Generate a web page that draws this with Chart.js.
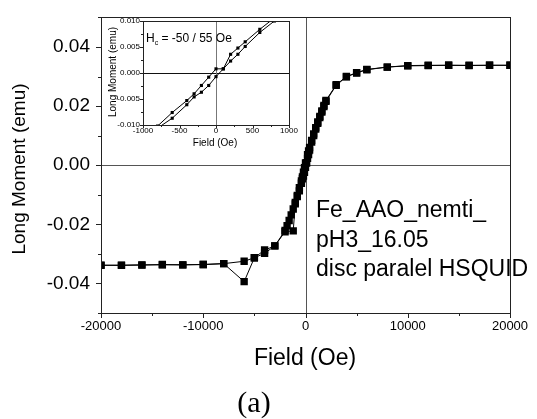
<!DOCTYPE html>
<html>
<head>
<meta charset="utf-8">
<script src="https://cdn.jsdelivr.net/npm/chart.js@4/dist/chart.umd.min.js"></script>
<style>
  html, body { margin: 0; padding: 0; background: #fff; }
  #wrap { position: relative; width: 537px; height: 419px; }
  #main { position: absolute; left: 0; top: 0; }
  #inset { position: absolute; left: 104px; top: 12px; }
</style>
</head>
<body>
<div id="wrap">
  <canvas id="main" width="537" height="419"></canvas>
  <canvas id="inset" width="196" height="140"></canvas>
</div>
<script>
// M(H) loop, field swept down from +20 kOe then back up
const fieldDown = [20000, 18000, 16000, 14000, 12000, 10000, 8000, 6000, 5000, 4000, 3000,
  2000, 1800, 1600, 1400, 1200, 1000, 800, 600, 400, 300, 200, 100, 0,
  -100, -200, -300, -400, -600, -800, -1000, -1200, -1400, -1600, -1800, -2000,
  -3000, -4000, -5000, -6000, -8000, -10000, -12000, -14000, -16000, -18000, -20000]
const momentDown = [0.0338, 0.0338, 0.0338, 0.0338, 0.0338, 0.0337, 0.0332, 0.0324, 0.0313, 0.0300, 0.0272,
  0.0219, 0.0202, 0.0184, 0.0165, 0.0146, 0.0127, 0.0106, 0.0084, 0.0060, 0.0048, 0.0036, 0.0008, 0.0008,
  -0.0008, -0.0024, -0.0040, -0.0053, -0.0076, -0.0102, -0.0126, -0.0148, -0.0168, -0.0187, -0.0205, -0.0221,
  -0.0273, -0.0287, -0.0313, -0.0325, -0.0333, -0.0336, -0.0337, -0.0336, -0.0338, -0.0339, -0.0338]

const fieldUp = [-20000, -18000, -16000, -14000, -12000, -10000, -8000, -6000, -5000, -4000, -3000, -2000,
  -1200, -1000, -800, -600, -400, -300, -200, -100, 0,
  100, 200, 300, 400, 600, 800, 1000, 1200, 1400, 1600, 1800, 2000,
  3000, 4000, 5000, 6000, 8000, 10000, 12000, 14000, 16000, 18000, 20000]
const momentUp = [-0.0339, -0.0338, -0.0337, -0.0337, -0.0337, -0.0336, -0.0333, -0.0394, -0.0313, -0.0298, -0.0273, -0.0225,
  -0.0222, -0.0131, -0.0106, -0.0087, -0.0061, -0.0046, -0.0037, -0.0024, -0.0007,
  0.0008, 0.0023, 0.0036, 0.0051, 0.0078, 0.0100, 0.0122, 0.0142, 0.0161, 0.0180, 0.0198, 0.0216,
  0.0270, 0.0299, 0.0312, 0.0323, 0.0332, 0.0336, 0.0337, 0.0338, 0.0337, 0.0338, 0.0338]

const xTicks = [-20000, -10000, 0, 10000, 20000]
const yTicks = [-0.04, -0.02, 0, 0.02, 0.04]
const xTicksInset = [-1000, -500, 0, 500, 1000]
const yTicksInset = [-0.010, -0.005, 0, 0.005, 0.010]

const sampleLines = ['Fe_AAO_nemti_', 'pH3_16.05', 'disc paralel HSQUID']

const SANS = '"Liberation Sans", Arial, sans-serif'

const toPoints = (xs, ys) => xs.map((x, i) => ({ x, y: ys[i] }))

function loopDatasets (radius) {
  return [toPoints(fieldDown, momentDown), toPoints(fieldUp, momentUp)].map(data => ({
    data,
    showLine: true,
    borderColor: '#000',
    borderWidth: 1,
    pointStyle: 'rect',
    pointRadius: radius,
    pointBackgroundColor: '#000',
    pointBorderWidth: 0,
    pointHoverRadius: radius,
    clip: 0
  }))
}

// zero lines, frame and in/out tick marks
const frame = {
  id: 'frame',
  beforeDatasetsDraw (chart, args, opts) {
    const { ctx, chartArea: a, scales: { x, y } } = chart
    ctx.save()
    ctx.lineWidth = 1
    const x0 = Math.round(x.getPixelForValue(0)) + 0.5
    const y0 = Math.round(y.getPixelForValue(0)) + 0.5
    ctx.strokeStyle = opts.zeroY
    ctx.beginPath(); ctx.moveTo(a.left, y0); ctx.lineTo(a.right, y0); ctx.stroke()
    ctx.strokeStyle = opts.zeroX
    ctx.beginPath(); ctx.moveTo(x0, a.top); ctx.lineTo(x0, a.bottom); ctx.stroke()
    ctx.restore()
  },
  afterDatasetsDraw (chart, args, opts) {
    const { ctx, chartArea: a, scales: { x, y } } = chart
    ctx.save()
    ctx.strokeStyle = opts.color
    ctx.lineWidth = opts.width
    ctx.strokeRect(Math.round(a.left) + 0.5, Math.round(a.top) + 0.5,
      Math.round(a.right - a.left), Math.round(a.bottom - a.top))
    ctx.lineWidth = 1
    ctx.beginPath()
    for (let i = 0, v = x.min; v <= x.max + 1e-9; i++, v = x.min + i * opts.xStep) {
      const px = Math.round(x.getPixelForValue(v)) + 0.5
      const len = i % 2 === 0 ? opts.major : opts.minor
      ctx.moveTo(px, a.bottom); ctx.lineTo(px, a.bottom + len)
    }
    const yStart = Math.ceil(y.min / opts.yStep - 1e-9)
    for (let k = yStart; k * opts.yStep <= y.max + 1e-9; k++) {
      const py = Math.round(y.getPixelForValue(k * opts.yStep)) + 0.5
      const len = k % 2 === 0 ? opts.major : opts.minor
      ctx.moveTo(a.left, py); ctx.lineTo(a.left - len, py)
    }
    ctx.stroke()
    ctx.restore()
  }
}

// axis titles and free text
const captions = {
  id: 'captions',
  afterDraw (chart, args, opts) {
    const ctx = chart.ctx
    ctx.save()
    ctx.fillStyle = '#000'
    opts.items.forEach(t => {
      ctx.save()
      ctx.font = t.font
      ctx.textAlign = t.align || 'center'
      ctx.textBaseline = t.baseline || 'middle'
      ctx.translate(t.x, t.y)
      if (t.rotate) ctx.rotate(t.rotate)
      ctx.fillText(t.text, 0, 0)
      ctx.restore()
    })
    if (opts.after) opts.after(ctx)
    ctx.restore()
  }
}

function fixedTicks (values) {
  return scale => { scale.ticks = values.map(value => ({ value })) }
}

new Chart(document.getElementById('main'), {
  type: 'scatter',
  data: { datasets: loopDatasets(5.2) },
  options: {
    responsive: false,
    devicePixelRatio: 1,
    animation: false,
    layout: { padding: { left: 0, top: 10, right: 27, bottom: 0 } },
    scales: {
      x: {
        type: 'linear',
        min: -20000,
        max: 20000,
        afterBuildTicks: fixedTicks(xTicks),
        afterFit: scale => { scale.height = 106 },
        grid: { display: false, drawTicks: true, tickLength: 5 },
        border: { display: false },
        ticks: { color: '#000', padding: 1, maxRotation: 0, font: { family: SANS, size: 13 }, callback: v => String(v) }
      },
      y: {
        type: 'linear',
        min: -0.05,
        max: 0.05,
        afterBuildTicks: fixedTicks(yTicks),
        afterFit: scale => { scale.width = 101 },
        grid: { display: false, drawTicks: true, tickLength: 5 },
        border: { display: false },
        ticks: { color: '#000', padding: 6, font: { family: SANS, size: 19 }, callback: v => v.toFixed(2) }
      }
    },
    plugins: {
      legend: { display: false },
      tooltip: { enabled: false },
      frame: { color: '#222', width: 1, major: 5, minor: 3, xStep: 5000, yStep: 0.01, zeroX: '#555', zeroY: '#555' },
      captions: {
        items: [
          { text: 'Long Moment (emu)', x: 20, y: 169, rotate: -Math.PI / 2, font: '19px ' + SANS },
          { text: 'Field (Oe)', x: 305, y: 359, font: '23px ' + SANS },
          { text: '(a)', x: 254, y: 412, baseline: 'alphabetic', font: '30px "Liberation Serif", "Times New Roman", serif' },
          ...sampleLines.map((text, i) => ({
            text, x: 316, y: 217 + i * 29.5, align: 'left', baseline: 'alphabetic', font: '23px ' + SANS
          }))
        ]
      }
    }
  },
  plugins: [frame, captions]
})

new Chart(document.getElementById('inset'), {
  type: 'scatter',
  data: { datasets: loopDatasets(2.2) },
  options: {
    responsive: false,
    devicePixelRatio: 1,
    animation: false,
    layout: { padding: { left: 0, top: 9, right: 11, bottom: 0 } },
    scales: {
      x: {
        type: 'linear',
        min: -1000,
        max: 1000,
        afterBuildTicks: fixedTicks(xTicksInset),
        afterFit: scale => { scale.height = 27 },
        grid: { display: false, drawTicks: false },
        border: { display: false },
        ticks: { color: '#000', padding: 1, maxRotation: 0, font: { family: SANS, size: 8 }, callback: v => String(v) }
      },
      y: {
        type: 'linear',
        min: -0.010,
        max: 0.010,
        afterBuildTicks: fixedTicks(yTicksInset),
        afterFit: scale => { scale.width = 39 },
        grid: { display: false, drawTicks: false },
        border: { display: false },
        ticks: { color: '#000', padding: 3, font: { family: SANS, size: 8 }, callback: v => v.toFixed(3) }
      }
    },
    plugins: {
      legend: { display: false },
      tooltip: { enabled: false },
      frame: { color: '#222', width: 1, major: 3, minor: 2, xStep: 250, yStep: 0.0025, zeroX: '#777', zeroY: '#111' },
      captions: {
        items: [
          { text: 'Long Moment (emu)', x: 9, y: 60, rotate: -Math.PI / 2, font: '10px ' + SANS },
          { text: 'Field (Oe)', x: 111, y: 131, font: '10px ' + SANS }
        ],
        // coercive field label with subscript c
        after (ctx) {
          ctx.textAlign = 'left'
          ctx.textBaseline = 'alphabetic'
          let x = 42
          const base = 30
          ctx.font = '12px ' + SANS
          ctx.fillText('H', x, base)
          x += ctx.measureText('H').width
          ctx.font = '7px ' + SANS
          ctx.fillText('c', x, base + 3)
          x += ctx.measureText('c').width
          ctx.font = '12px ' + SANS
          ctx.fillText(' = -50 / 55 Oe', x, base)
        }
      }
    }
  },
  plugins: [frame, captions]
})
</script>
</body>
</html>
